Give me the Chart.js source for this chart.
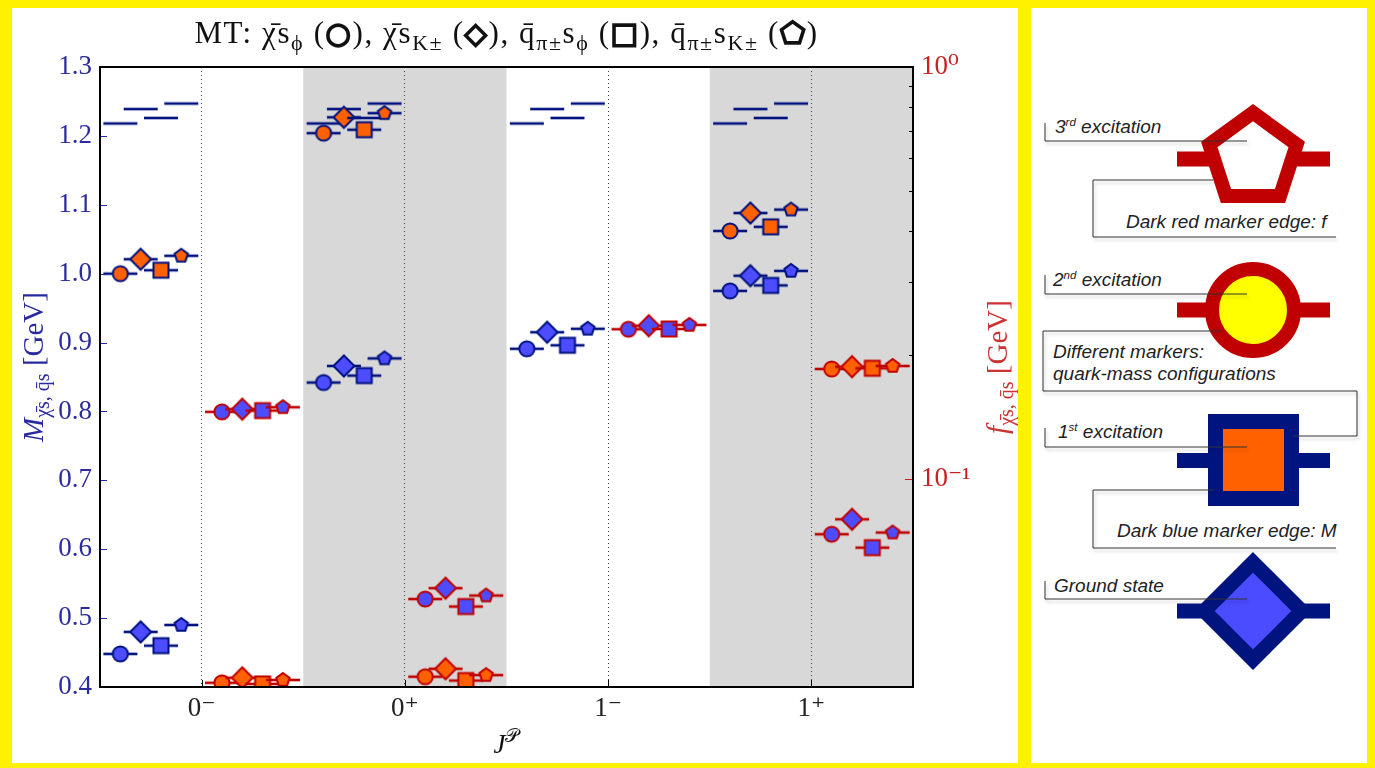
<!DOCTYPE html>
<html>
<head>
<meta charset="utf-8">
<script src="https://cdn.jsdelivr.net/npm/chart.js@4.4.0/dist/chart.umd.min.js"></script>
<style>
  html, body { margin: 0; padding: 0; }
  body { width: 1375px; height: 768px; background: #fff100; position: relative; overflow: hidden; }
  .panel { position: absolute; background: #fff; }
  #left { left: 12px; top: 8px; width: 1006px; height: 755px; }
  #right { left: 1031px; top: 8px; width: 336px; height: 755px; }
  #chart { position: absolute; left: 12px; top: 8px; }
  #key { position: absolute; left: 1020px; top: 0; }
  #key text { font-family: "Liberation Sans", Arial, sans-serif; font-style: italic; font-size: 19px; fill: #222; }
  #key .note { fill: none; stroke: #333; stroke-width: 1; filter: url(#sh); }
</style>
</head>
<body>
<div class="panel" id="left"></div>
<div class="panel" id="right"></div>
<canvas id="chart" width="1006" height="755"></canvas>

<svg id="key" width="355" height="768" viewBox="0 0 355 768">
  <defs>
    <filter id="sh" x="-5%" y="-20%" width="115%" height="160%">
      <feDropShadow dx="1.5" dy="3" stdDeviation="1.5" flood-opacity="0.22"/>
    </filter>
  </defs>
  <!-- 3rd excitation: open marker -->
  <rect x="157" y="151.5" width="153" height="15" fill="#c00000"/>
  <polygon points="233,112.7 276.75,144.5 260.04,195.9 205.96,195.9 189.25,144.5" fill="#fff" stroke="#c00000" stroke-width="14"/>
  <!-- 2nd excitation: yellow fill -->
  <rect x="157" y="302.5" width="153" height="15" fill="#c00000"/>
  <circle cx="233" cy="310" r="41" fill="#ffff00" stroke="#c00000" stroke-width="14"/>
  <!-- 1st excitation: orange fill -->
  <rect x="157" y="453" width="153" height="15" fill="#001480"/>
  <rect x="195.5" y="421.5" width="76" height="77" fill="#ff6000" stroke="#001480" stroke-width="15"/>
  <!-- ground state: blue fill -->
  <rect x="157" y="603.5" width="153" height="15" fill="#001480"/>
  <polygon points="233,562.3 281.7,611 233,659.7 184.3,611" fill="#4b4bff" stroke="#001480" stroke-width="14.6"/>

  <path class="note" d="M25,123 V141 H227"/>
  <path class="note" d="M193,180 H73 V237 H316"/>
  <path class="note" d="M25,275 V294 H227"/>
  <path class="note" d="M202,331 H23 V391 H337 V436 H273"/>
  <path class="note" d="M25,428 V447 H227"/>
  <path class="note" d="M194,490 H73 V548 H316"/>
  <path class="note" d="M25,581 V599 H227"/>

  <text x="35" y="133">3<tspan font-size="11.5" dy="-7">rd</tspan><tspan dy="7"> excitation</tspan></text>
  <text x="106" y="228">Dark red marker edge: f</text>
  <text x="33" y="286">2<tspan font-size="11.5" dy="-7">nd</tspan><tspan dy="7"> excitation</tspan></text>
  <text x="33" y="358">Different markers:</text>
  <text x="33" y="380">quark-mass configurations</text>
  <text x="38" y="438">1<tspan font-size="11.5" dy="-7">st</tspan><tspan dy="7"> excitation</tspan></text>
  <text x="97" y="537">Dark blue marker edge: M</text>
  <text x="34" y="592">Ground state</text>
</svg>

<script>
// J^P channels along the x axis
const categories = ['0⁻', '0⁺', '1⁻', '1⁺'];
// quark-mass configurations (marker shape order)
const configs = ['χ̄s_ϕ', 'χ̄s_K±', 'q̄_π±s_ϕ', 'q̄_π±s_K±'];
const shapes = ['circle', 'diamond', 'square', 'pentagon'];

// masses M [GeV]: one row per J^P, one value per configuration
const massGround = [
  [0.448, 0.480, 0.460, 0.490],
  [0.842, 0.866, 0.852, 0.877],
  [0.891, 0.915, 0.896, 0.920],
  [0.975, 0.997, 0.983, 1.004]
];
const massFirst = [
  [1.000, 1.021, 1.005, 1.026],
  [1.204, 1.227, 1.209, 1.233],
  null,
  [1.062, 1.088, 1.068, 1.093]
];
const massThird = [
  [1.218, 1.239, 1.226, 1.247],
  [1.218, 1.239, 1.226, 1.247],
  [1.218, 1.239, 1.226, 1.247],
  [1.218, 1.239, 1.226, 1.247]
];

// decay constants f [GeV] (log axis on the right)
const decayGround = [
  [0.1455, 0.1477, 0.1465, 0.1493],
  [0.0511, 0.0543, 0.0490, 0.0521],
  [0.2309, 0.2355, 0.2312, 0.2365],
  [0.0734, 0.0798, 0.0681, 0.0741]
];
const decayFirst = [
  [0.0320, 0.0329, 0.0318, 0.0325],
  [0.0331, 0.0346, 0.0324, 0.0334],
  null,
  [0.1849, 0.1873, 0.1856, 0.1880]
];

const massTicks = [0.4, 0.5, 0.6, 0.7, 0.8, 0.9, 1.0, 1.1, 1.2, 1.3];
const decayTicks = [1, 0.1];
const decayMinorTicks = [0.2, 0.3, 0.4, 0.5, 0.6, 0.7, 0.8, 0.9];
const shadedBands = [[0.5, 1.5], [2.5, 3.5]];

const BLUE_EDGE = '#00127f';
const RED_EDGE = '#c00000';
const BLUE_FILL = '#4d4dff';
const ORANGE_FILL = '#ff6000';
const SERIF = '"Liberation Serif", "DejaVu Serif", serif';

// marker with its horizontal bar, used as point style
function makeMarker(shape, fill, edge) {
  const c = document.createElement('canvas');
  c.width = 40;
  c.height = 28;
  const g = c.getContext('2d');
  const cx = 20, cy = 14;
  g.fillStyle = edge;
  g.fillRect(3, cy - 1.3, 34, 2.6);
  if (!fill) return c;
  g.beginPath();
  if (shape === 'circle') {
    g.arc(cx, cy, 7.6, 0, Math.PI * 2);
  } else if (shape === 'diamond') {
    g.moveTo(cx, cy - 10.5); g.lineTo(cx + 10.5, cy); g.lineTo(cx, cy + 10.5); g.lineTo(cx - 10.5, cy);
    g.closePath();
  } else if (shape === 'square') {
    g.rect(cx - 7.5, cy - 7.5, 15, 15);
  } else {
    for (let i = 0; i < 5; i++) {
      const a = -Math.PI / 2 + i * 2 * Math.PI / 5;
      const px = cx + 7 * Math.cos(a), py = cy + 7 * Math.sin(a);
      if (i) g.lineTo(px, py); else g.moveTo(px, py);
    }
    g.closePath();
  }
  g.fillStyle = fill;
  g.fill();
  g.lineWidth = 2;
  g.strokeStyle = edge;
  g.stroke();
  return c;
}

const groups = [
  { values: massThird, axis: 'y', fill: null, edge: BLUE_EDGE, start: -0.4 },
  { values: massGround, axis: 'y', fill: BLUE_FILL, edge: BLUE_EDGE, start: -0.4 },
  { values: massFirst, axis: 'y', fill: ORANGE_FILL, edge: BLUE_EDGE, start: -0.4 },
  { values: decayGround, axis: 'y2', fill: BLUE_FILL, edge: RED_EDGE, start: 0.1 },
  { values: decayFirst, axis: 'y2', fill: ORANGE_FILL, edge: RED_EDGE, start: 0.1 }
];

const datasets = [];
configs.forEach((cfg, k) => {
  groups.forEach(grp => {
    const data = [];
    categories.forEach((cat, i) => {
      const row = grp.values[i];
      if (row && row[k] != null) data.push({ x: i + grp.start + 0.1 * k, y: row[k] });
    });
    datasets.push({
      label: cfg,
      data: data,
      yAxisID: grp.axis,
      pointStyle: makeMarker(shapes[k], grp.fill, grp.edge),
      pointRadius: 8,
      pointHoverRadius: 8,
      showLine: false,
      clip: 0
    });
  });
});
// first dataset is painted last in Chart.js, so reverse to keep later ones on top
datasets.reverse();

function richText(ctx, parts, x, y, size, color, spacing) {
  const fontFor = kind => {
    if (kind === 'sym') return 'bold ' + Math.round(size * 0.92) + 'px "DejaVu Sans", sans-serif';
    if (kind === 'i') return 'italic ' + size + 'px ' + SERIF;
    if (kind === 'sub' || kind === 'sup') return Math.round(size * 0.7) + 'px ' + SERIF;
    return size + 'px ' + SERIF;
  };
  ctx.letterSpacing = (spacing || 0) + 'px';
  const widths = parts.map(p => { ctx.font = fontFor(p[1]); return ctx.measureText(p[0]).width; });
  let cx = x - widths.reduce((a, b) => a + b, 0) / 2;
  ctx.fillStyle = color;
  ctx.strokeStyle = color;
  ctx.textAlign = 'left';
  ctx.textBaseline = 'alphabetic';
  parts.forEach((p, i) => {
    ctx.font = fontFor(p[1]);
    const dy = p[1] === 'sub' ? size * 0.22 : p[1] === 'sup' ? -size * 0.4 : 0;
    ctx.fillText(p[0], cx, y + dy);
    if (p[1] === 'sym') {
      ctx.lineWidth = 2;
      ctx.strokeText(p[0], cx, y + dy);
    }
    cx += widths[i];
  });
  ctx.letterSpacing = '0px';
}

const titleParts = [
  ['MT: χ̄s', 'n'], ['ϕ', 'sub'], [' (', 'n'], ['○', 'sym'], ['), χ̄s', 'n'], ['K±', 'sub'],
  [' (', 'n'], ['◇', 'sym'], ['), q̄', 'n'], ['π±', 'sub'], ['s', 'n'], ['ϕ', 'sub'],
  [' (', 'n'], ['□', 'sym'], ['), q̄', 'n'], ['π±', 'sub'], ['s', 'n'], ['K±', 'sub'],
  [' (', 'n'], ['⬠', 'sym'], [')', 'n']
];
const massLabel = [['M', 'i'], ['χ̄s, q̄s', 'sub'], [' [GeV]', 'n']];
const decayLabel = [['f', 'i'], ['χ̄s, q̄s', 'sub'], [' [GeV]', 'n']];
const xLabel = [['J', 'i'], ['𝒫', 'sup']];

const bandsPlugin = {
  id: 'bands',
  beforeDraw(chart) {
    const { ctx, chartArea: a, scales: { x } } = chart;
    ctx.save();
    ctx.fillStyle = '#d8d8d8';
    shadedBands.forEach(b => {
      const x0 = x.getPixelForValue(b[0]), x1 = x.getPixelForValue(b[1]);
      ctx.fillRect(x0, a.top, x1 - x0, a.bottom - a.top);
    });
    ctx.restore();
  }
};

const framePlugin = {
  id: 'frame',
  afterDraw(chart) {
    const { ctx, chartArea: a, scales: { x, y, y2 } } = chart;
    ctx.save();
    ctx.lineWidth = 1;
    const tick = (x0, y0, x1, y1, color) => {
      ctx.strokeStyle = color;
      ctx.beginPath(); ctx.moveTo(x0, y0); ctx.lineTo(x1, y1); ctx.stroke();
    };
    massTicks.forEach(v => { const p = Math.round(y.getPixelForValue(v)) + 0.5; tick(a.left, p, a.left + 7, p, '#2a2a9c'); });
    decayTicks.forEach(v => { const p = Math.round(y2.getPixelForValue(v)) + 0.5; tick(a.right - 8, p, a.right, p, '#cc2020'); });
    decayMinorTicks.forEach(v => { const p = Math.round(y2.getPixelForValue(v)) + 0.5; tick(a.right - 4, p, a.right, p, '#000'); });
    categories.forEach((c, i) => { const p = Math.round(x.getPixelForValue(i)) + 0.5; tick(p, a.bottom - 7, p, a.bottom, '#000'); });
    ctx.lineWidth = 2;
    ctx.strokeStyle = '#000';
    ctx.strokeRect(a.left, a.top, a.right - a.left, a.bottom - a.top);

    const mid = (a.left + a.right) / 2, midY = (a.top + a.bottom) / 2;
    richText(ctx, titleParts, mid, a.top - 24, 31, '#111', 1.6);
    richText(ctx, xLabel, mid, a.bottom + 66, 27, '#111');
    ctx.save();
    ctx.translate(a.left - 57, midY - 10);
    ctx.rotate(-Math.PI / 2);
    richText(ctx, massLabel, 0, 0, 29, '#2a2a9f');
    ctx.restore();
    ctx.save();
    ctx.translate(a.right + 94, midY - 10);
    ctx.rotate(-Math.PI / 2);
    richText(ctx, decayLabel, 0, 0, 29, '#cc3333');
    ctx.restore();
    ctx.restore();
  }
};

const sup = { '0': '⁰', '1': '¹', '-': '⁻' };

new Chart(document.getElementById('chart'), {
  type: 'scatter',
  data: { datasets: datasets },
  options: {
    responsive: false,
    animation: false,
    events: [],
    layout: { padding: { top: 59, left: 0, right: 0, bottom: 0 } },
    plugins: { legend: { display: false }, title: { display: false }, tooltip: { enabled: false } },
    scales: {
      x: {
        type: 'linear',
        min: -0.5,
        max: 3.5,
        afterBuildTicks: s => { s.ticks = categories.map((c, i) => ({ value: i })); },
        afterFit: s => { s.height = 76; },
        grid: { display: true, drawTicks: false, color: '#444', lineWidth: 1 },
        border: { display: false, dash: [1, 3] },
        ticks: {
          padding: 6,
          color: '#222',
          font: { family: SERIF, size: 27 },
          callback: (v, i) => categories[i]
        }
      },
      y: {
        position: 'left',
        min: 0.4,
        max: 1.3,
        afterBuildTicks: s => { s.ticks = massTicks.map(v => ({ value: v })); },
        afterFit: s => { s.width = 88; },
        grid: { display: false, drawTicks: false },
        border: { display: false },
        ticks: {
          padding: 8,
          color: '#2b2b9c',
          font: { family: SERIF, size: 27 },
          callback: v => v.toFixed(1)
        }
      },
      y2: {
        type: 'logarithmic',
        position: 'right',
        min: 0.03125,
        max: 1,
        afterBuildTicks: s => { s.ticks = decayTicks.map(v => ({ value: v, major: true })); },
        afterFit: s => { s.width = 105; },
        grid: { display: false, drawTicks: false },
        border: { display: false },
        ticks: {
          padding: 8,
          color: '#cc2020',
          font: { family: SERIF, size: 27 },
          callback: v => '10' + String(Math.round(Math.log10(v))).split('').map(ch => sup[ch]).join('')
        }
      }
    }
  },
  plugins: [bandsPlugin, framePlugin]
});
</script>
</body>
</html>
